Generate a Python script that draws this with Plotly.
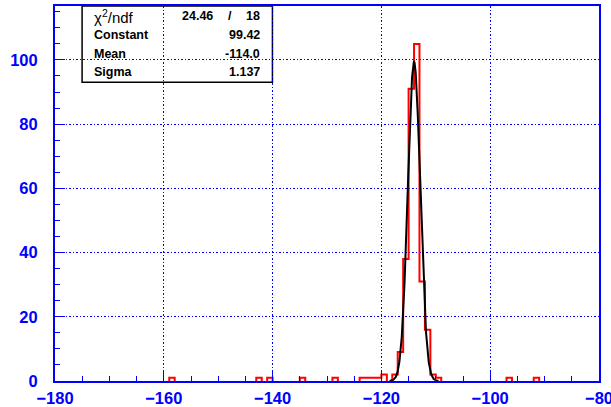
import numpy as np
import plotly.graph_objects as go

# Histogram: 1-unit bins on [-180, -80]; only the non-empty bins are listed
x_range = [-180, -80]
y_range = [0, 116.8]
bin_width = 1.0
bin_lo = [-159, -143, -141, -135, -129, -124, -123, -122, -121, -120,
          -118, -117, -116, -115, -114, -113, -112, -111, -110, -97, -92]
bin_counts = [1, 1, 1, 1, 1, 1, 1, 1, 1, 2,
              2, 9, 38, 91, 105, 31, 16, 2, 1, 1, 1]

# Gaussian fit result
fit_constant = 99.42
fit_mean = -114.0
fit_sigma = 1.137
fit_chi2 = 24.46
fit_ndf = 18
fit_range = [-118.5, -109.5]

x_ticks = [-180, -160, -140, -120, -100, -80]
y_ticks = [0, 20, 40, 60, 80, 100]

BLUE = "#0000ff"
FONT = "Liberation Sans, Arial, Helvetica, sans-serif"


def outline(lo, counts, width):
    """Step outline of the histogram, one closed run per group of adjacent bins."""
    xs, ys = [], []
    i = 0
    while i < len(lo):
        j = i
        while j + 1 < len(lo) and abs(lo[j + 1] - (lo[j] + width)) < 1e-9:
            j += 1
        xs.append(lo[i]); ys.append(0)
        for k in range(i, j + 1):
            xs += [lo[k], lo[k] + width]
            ys += [counts[k], counts[k]]
        xs.append(lo[j] + width); ys.append(0)
        xs.append(None); ys.append(None)
        i = j + 1
    return xs, ys


hx, hy = outline(bin_lo, bin_counts, bin_width)

fx = np.linspace(fit_range[0], fit_range[1], 300)
fy = fit_constant * np.exp(-0.5 * ((fx - fit_mean) / fit_sigma) ** 2)

fig = go.Figure()
fig.add_trace(go.Scatter(x=hx, y=hy, mode="lines",
                         line=dict(color="#ff0000", width=2),
                         hoverinfo="skip", showlegend=False))
fig.add_trace(go.Scatter(x=fx, y=fy, mode="lines",
                         line=dict(color="#000000", width=2),
                         hoverinfo="skip", showlegend=False))

axis_common = dict(
    showline=True, linecolor=BLUE, linewidth=2, mirror=True,
    ticks="inside", ticklen=10, tickwidth=1, tickcolor=BLUE,
    showgrid=True, gridcolor=BLUE, gridwidth=1, griddash="1.5px,2px",
    zeroline=False, automargin=False, ticklabeloverflow="allow",
    tickfont=dict(family=FONT, size=16.5, color=BLUE, weight="bold"),
    minor=dict(dtick=5, ticks="inside", ticklen=5, tickwidth=1,
               tickcolor=BLUE, showgrid=False),
)

fig.update_xaxes(range=x_range, tickvals=x_ticks, ticklabelstandoff=1,
                 **axis_common)
fig.update_yaxes(range=y_range, tickvals=y_ticks, ticklabelstandoff=12,
                 **axis_common)

# Fit statistics box
box_x0, box_x1 = 0.0498, 0.3997
box_y0, box_y1 = 0.7964, 1.0
fig.add_shape(type="rect", xref="paper", yref="paper",
              x0=box_x0, x1=box_x1, y0=box_y0, y1=box_y1,
              line=dict(color="black", width=1.5), fillcolor="white",
              layer="below")

label_x = 0.0681
value_x = 0.3813
row_y = [0.9733, 0.9226, 0.8719, 0.8231]
bold = dict(family=FONT, size=12.5, color="black", weight="bold")

fig.add_annotation(x=label_x, y=row_y[0], xref="paper", yref="paper",
                   text="\u03c7<sup>2</sup>/ndf", showarrow=False,
                   xanchor="left", yanchor="middle",
                   font=dict(family=FONT, size=15, color="black"))
fig.add_annotation(x=0.2945, y=row_y[0], xref="paper", yref="paper",
                   text=f"{fit_chi2:.2f}", showarrow=False,
                   xanchor="right", yanchor="middle", font=bold)
fig.add_annotation(x=0.3222, y=row_y[0], xref="paper", yref="paper",
                   text="/", showarrow=False,
                   xanchor="center", yanchor="middle", font=bold)
fig.add_annotation(x=value_x, y=row_y[0], xref="paper", yref="paper",
                   text=f"{fit_ndf}", showarrow=False,
                   xanchor="right", yanchor="middle", font=bold)

stats = [("Constant", f"{fit_constant:.2f}"),
         ("Mean", f"{fit_mean:.1f}"),
         ("Sigma", f"{fit_sigma:.3f}")]
for (name, val), yy in zip(stats, row_y[1:]):
    fig.add_annotation(x=label_x, y=yy, xref="paper", yref="paper",
                       text=name, showarrow=False,
                       xanchor="left", yanchor="middle", font=bold)
    fig.add_annotation(x=value_x, y=yy, xref="paper", yref="paper",
                       text=val, showarrow=False,
                       xanchor="right", yanchor="middle", font=bold)

fig.update_layout(
    width=611, height=407,
    margin=dict(l=55, r=12, t=6, b=26, pad=0),
    plot_bgcolor="white", paper_bgcolor="white",
    showlegend=False,
)

fig.write_html("out.html")
